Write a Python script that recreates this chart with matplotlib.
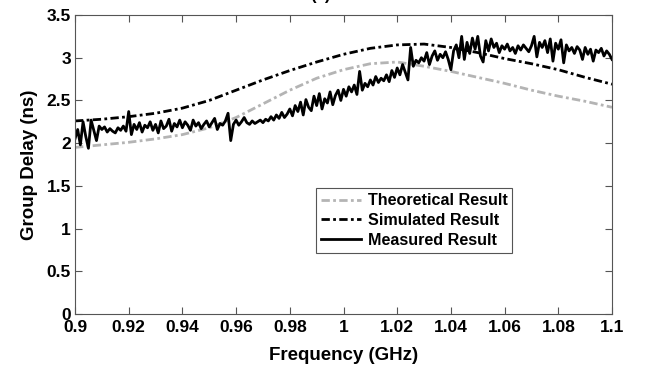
import numpy as np
import matplotlib
matplotlib.use('Agg')
import matplotlib.pyplot as plt
from matplotlib.ticker import FormatStrFormatter

plt.rcParams['font.family'] = ['Liberation Sans', 'DejaVu Sans']
plt.rcParams['font.weight'] = 'bold'

# smooth curves, read every 0.01 GHz
freq_s = [0.90, 0.91, 0.92, 0.93, 0.94, 0.95, 0.96, 0.97, 0.98, 0.99, 1.00,
          1.01, 1.02, 1.03, 1.04, 1.05, 1.06, 1.07, 1.08, 1.09, 1.10]
theoretical = [1.95, 1.98, 2.01, 2.05, 2.10, 2.18, 2.30, 2.46, 2.62, 2.76, 2.86,
               2.93, 2.95, 2.90, 2.84, 2.77, 2.70, 2.62, 2.55, 2.49, 2.42]
simulated = [2.26, 2.28, 2.31, 2.35, 2.41, 2.50, 2.62, 2.74, 2.85, 2.95, 3.04,
             3.11, 3.15, 3.16, 3.12, 3.06, 2.99, 2.93, 2.86, 2.77, 2.69]

# measured curve, read every 0.001 GHz
freq_m = np.round(np.arange(0.900, 1.1005, 0.001), 3)
measured = [
    2.05, 2.16, 1.98, 2.25, 2.08, 1.94, 2.27, 2.15, 2.03, 2.20,
    2.16, 2.19, 2.13, 2.17, 2.14, 2.12, 2.18, 2.15, 2.20, 2.14,
    2.37, 2.10, 2.22, 2.16, 2.24, 2.13, 2.21, 2.18, 2.25, 2.15,
    2.22, 2.12, 2.26, 2.17, 2.20, 2.28, 2.14, 2.23, 2.19, 2.27,
    2.18, 2.25, 2.21, 2.15, 2.27, 2.20, 2.24, 2.17, 2.22, 2.26,
    2.19, 2.24, 2.29, 2.16, 2.23, 2.21, 2.26, 2.35, 2.03, 2.22,
    2.27, 2.21, 2.25, 2.30, 2.24, 2.22, 2.26, 2.23, 2.25, 2.27,
    2.24, 2.28, 2.26, 2.31, 2.27, 2.33, 2.29, 2.36, 2.30, 2.34,
    2.40, 2.32, 2.44, 2.37, 2.48, 2.33, 2.51, 2.42, 2.38, 2.55,
    2.44, 2.58, 2.40, 2.52, 2.47, 2.60, 2.45, 2.56, 2.62, 2.50,
    2.63, 2.55, 2.66, 2.60, 2.68, 2.57, 2.84, 2.62, 2.70, 2.66,
    2.74, 2.68, 2.78, 2.71, 2.76, 2.73, 2.80, 2.72, 2.85, 2.77,
    2.88, 2.80, 2.92, 2.83, 2.74, 3.12, 2.90, 2.97, 2.94, 3.00,
    2.96, 3.06, 2.92, 3.02, 3.08, 2.97, 3.04, 3.00, 3.07, 2.98,
    2.86, 3.08, 3.15, 3.00, 3.25, 2.98, 3.18, 3.05, 3.23, 3.10,
    3.25, 3.02, 2.95, 3.20, 3.08, 3.22, 3.12, 3.17, 3.06, 3.14,
    3.10, 3.16, 3.08, 3.12, 3.05, 3.14, 3.09, 3.15, 3.11, 3.07,
    3.14, 3.25, 3.01, 3.18, 3.12, 3.20, 3.06, 3.22, 2.96, 3.17,
    3.10, 3.21, 2.94, 3.15, 3.08, 3.12, 3.05, 3.13, 3.09, 2.98,
    3.12, 3.04, 3.10, 2.96, 3.09, 3.06, 3.11, 3.02, 3.08, 3.04,
    2.98]

fig = plt.figure(figsize=(6.46, 3.68), dpi=100)
ax = fig.add_axes([0.1161, 0.1467, 0.8313, 0.8125])

dashdot = (0, (3, 1.2, 1, 1.2))
ax.plot(freq_s, theoretical, color='#b4b4b4', linestyle=dashdot, linewidth=2, label='Theoretical Result')
ax.plot(freq_s, simulated, color='black', linestyle=dashdot, linewidth=2, label='Simulated Result')
ax.plot(freq_m, measured, color='black', linestyle='-', linewidth=2, label='Measured Result')

ax.set_xlim(0.9, 1.1)
ax.set_ylim(0, 3.5)
ax.set_xticks(np.round(np.arange(0.9, 1.1001, 0.02), 2))
ax.set_yticks(np.arange(0, 3.51, 0.5))
ax.xaxis.set_major_formatter(FormatStrFormatter('%g'))
ax.yaxis.set_major_formatter(FormatStrFormatter('%g'))
ax.tick_params(direction='in', top=True, right=True, labelsize=12.5, length=5, color='#555555', pad=3)
ax.tick_params(axis='x', pad=4)
for lab in ax.get_xticklabels() + ax.get_yticklabels():
    lab.set_fontweight('bold')
for sp in ax.spines.values():
    sp.set_color('#555555')

ax.set_xlabel('Frequency (GHz)', fontsize=13.5, fontweight='bold', labelpad=9)
ax.set_ylabel('Group Delay (ns)', fontsize=13.5, fontweight='bold', labelpad=6)

leg = ax.legend(loc='upper left', bbox_to_anchor=(0.434, 0.447), fancybox=False,
                edgecolor='#555555', framealpha=1, handlelength=2.5, handletextpad=0.4,
                prop={'weight': 'bold', 'size': 11.6}, borderpad=0.3, labelspacing=0.3)
leg.get_frame().set_linewidth(0.8)

fig.text(320 / 646, 1 - 3 / 368, '(a)', ha='center', va='bottom', fontsize=12, fontweight='bold')

fig.savefig('out.png', dpi=100)
